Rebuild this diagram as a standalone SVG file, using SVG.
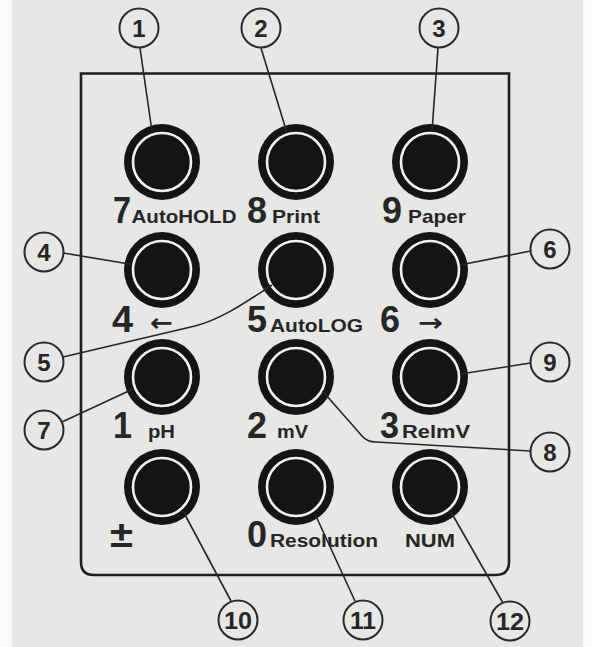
<svg xmlns="http://www.w3.org/2000/svg" width="592" height="647" viewBox="0 0 592 647">
<style>
.bg{fill:#e7e7e6}
.frame{fill:none;stroke:#1e1e1e;stroke-width:2.6}
.btn-out{fill:#141414}
.btn-ring{fill:none;stroke:#f2f2f2;stroke-width:2.6}
.callout{fill:none;stroke:#2a2a2a;stroke-width:2}
.lead{fill:none;stroke:#262626;stroke-width:1.6}
.num{font-family:"Liberation Sans",Arial,sans-serif;font-weight:bold;font-size:24px;fill:#262626;text-anchor:middle}
.big{font-family:"Liberation Sans",Arial,sans-serif;font-weight:bold;font-size:37px;fill:#262626}
.small{font-family:"Liberation Sans",Arial,sans-serif;font-weight:bold;font-size:18.5px;fill:#262626}
.arrow{font-family:"DejaVu Sans",sans-serif;font-weight:bold;font-size:24px;fill:#262626}
</style>
<defs>
<g id="button">
<circle r="38" class="btn-out"/>
<circle r="29" class="btn-ring"/>
</g>
</defs>
<rect x="0" y="0" width="592" height="647" fill="#fbfbfb"/>
<rect class="bg" x="12" y="0" width="571" height="647"/>
<path id="panel" class="frame" d="M81 73.5 H509 V562 Q509 575 496 575 H94 Q81 575 81 562 Z"/>

<g id="key7"><use href="#button" x="162" y="162"/><text class="big" x="113" y="223" textLength="18" lengthAdjust="spacingAndGlyphs">7</text><text class="small" x="131.5" y="223" textLength="105" lengthAdjust="spacingAndGlyphs">AutoHOLD</text></g>
<g id="key8"><use href="#button" x="296" y="162"/><text class="big" x="247" y="223" textLength="20" lengthAdjust="spacingAndGlyphs">8</text><text class="small" x="272" y="223" textLength="48" lengthAdjust="spacingAndGlyphs">Print</text></g>
<g id="key9"><use href="#button" x="430" y="162"/><text class="big" x="382" y="223" textLength="20" lengthAdjust="spacingAndGlyphs">9</text><text class="small" x="408" y="223" textLength="58" lengthAdjust="spacingAndGlyphs">Paper</text></g>

<g id="key4"><use href="#button" x="162" y="270"/><text class="big" x="112" y="332" textLength="21" lengthAdjust="spacingAndGlyphs">4</text><text class="arrow" x="150" y="331" textLength="23" lengthAdjust="spacingAndGlyphs">←</text></g>
<g id="key5"><use href="#button" x="296" y="270"/><text class="big" x="247" y="332" textLength="20" lengthAdjust="spacingAndGlyphs">5</text><text class="small" x="270" y="332" textLength="93" lengthAdjust="spacingAndGlyphs">AutoLOG</text></g>
<g id="key6"><use href="#button" x="430" y="270"/><text class="big" x="380" y="332" textLength="20" lengthAdjust="spacingAndGlyphs">6</text><text class="arrow" x="418" y="331" textLength="25" lengthAdjust="spacingAndGlyphs">→</text></g>

<g id="key1"><use href="#button" x="162" y="377"/><text class="big" x="113" y="438" textLength="19" lengthAdjust="spacingAndGlyphs">1</text><text class="small" x="148" y="438" textLength="27" lengthAdjust="spacingAndGlyphs">pH</text></g>
<g id="key2"><use href="#button" x="296" y="377"/><text class="big" x="247" y="438" textLength="20" lengthAdjust="spacingAndGlyphs">2</text><text class="small" x="277" y="438" textLength="31" lengthAdjust="spacingAndGlyphs">mV</text></g>
<g id="key3"><use href="#button" x="430" y="377"/><text class="big" x="380" y="438" textLength="19" lengthAdjust="spacingAndGlyphs">3</text><text class="small" x="402" y="438" textLength="68" lengthAdjust="spacingAndGlyphs">RelmV</text></g>

<g id="keyPM"><use href="#button" x="162" y="487"/><text class="big" x="110" y="547" textLength="23" lengthAdjust="spacingAndGlyphs">±</text></g>
<g id="key0"><use href="#button" x="296" y="487"/><text class="big" x="247" y="547" textLength="20" lengthAdjust="spacingAndGlyphs">0</text><text class="small" x="270" y="547" textLength="108" lengthAdjust="spacingAndGlyphs">Resolution</text></g>
<g id="keyNUM"><use href="#button" x="430" y="487"/><text class="small" x="405" y="547" textLength="50" lengthAdjust="spacingAndGlyphs">NUM</text></g>

<g id="connectors">
<path class="lead" d="M140 48 L152 131.5"/>
<path class="lead" d="M261 48 L287 133"/>
<path class="lead" d="M438 48 L432 131.5"/>
<path class="lead" d="M63.5 253 L132 264.5"/>
<path class="lead" d="M63 357 L195 326 C222 319 246 302 272 285"/>
<path class="lead" d="M530.5 251 L460 265"/>
<path class="lead" d="M530.5 363 L460.5 374"/>
<path class="lead" d="M62 422 L133 389"/>
<path class="lead" d="M322.5 391 L362 436 Q367 442 376 442 L530.5 451"/>
<path class="lead" d="M183 511 L231 601"/>
<path class="lead" d="M315 514 L355 601"/>
<path class="lead" d="M451 512 L503 603"/>
</g>

<g id="c1"><circle class="callout" cx="139" cy="28" r="19.5"/><text class="num" x="139" y="36.5">1</text></g>
<g id="c2"><circle class="callout" cx="261" cy="28" r="19.5"/><text class="num" x="261" y="36.5">2</text></g>
<g id="c3"><circle class="callout" cx="439" cy="28" r="19.5"/><text class="num" x="439" y="36.5">3</text></g>
<g id="c4"><circle class="callout" cx="44" cy="252" r="19.5"/><text class="num" x="44" y="260.5">4</text></g>
<g id="c5"><circle class="callout" cx="44" cy="362" r="19.5"/><text class="num" x="44" y="370.5">5</text></g>
<g id="c6"><circle class="callout" cx="550" cy="249" r="19.5"/><text class="num" x="550" y="257.5">6</text></g>
<g id="c7"><circle class="callout" cx="44" cy="430" r="19.5"/><text class="num" x="44" y="438.5">7</text></g>
<g id="c8"><circle class="callout" cx="550" cy="452" r="19.5"/><text class="num" x="550" y="460.5">8</text></g>
<g id="c9"><circle class="callout" cx="550" cy="362" r="19.5"/><text class="num" x="550" y="370.5">9</text></g>
<g id="c10"><circle class="callout" cx="238" cy="620" r="19.5"/><text class="num" x="238" y="628.5" textLength="28" lengthAdjust="spacingAndGlyphs">10</text></g>
<g id="c11"><circle class="callout" cx="363" cy="620" r="19.5"/><text class="num" x="363" y="628.5" textLength="26" lengthAdjust="spacingAndGlyphs">11</text></g>
<g id="c12"><circle class="callout" cx="510" cy="621" r="19.5"/><text class="num" x="510" y="629.5" textLength="28" lengthAdjust="spacingAndGlyphs">12</text></g>
</svg>
